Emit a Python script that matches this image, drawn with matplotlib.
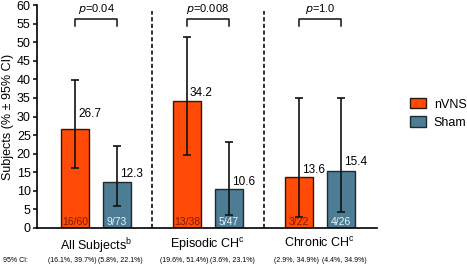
import matplotlib
matplotlib.use('Agg')
import matplotlib.pyplot as plt
import matplotlib.transforms as mtransforms
from matplotlib.patches import Patch
import numpy as np

plt.rcParams['font.family'] = ['Liberation Sans', 'DejaVu Sans']

# Daten
groups = ['All Subjects$^{\\mathregular{b}}$', 'Episodic CH$^{\\mathregular{c}}$', 'Chronic CH$^{\\mathregular{c}}$']
nvns = [26.7, 34.2, 13.6]
sham = [12.3, 10.6, 15.4]
nvns_ci = [(16.1, 39.7), (19.6, 51.4), (2.9, 34.9)]
sham_ci = [(5.8, 22.1), (3.6, 23.1), (4.4, 34.9)]
nvns_n = ['16/60', '13/38', '3/22']
sham_n = ['9/73', '5/47', '4/26']
p_values = ['0.04', '0.008', '1.0']
yticks = list(range(0, 61, 5))

c_nvns = '#FF4A08'
c_sham = '#4D7D94'

fig = plt.figure(figsize=(4.67, 2.69), dpi=100)
ax = fig.add_axes([37 / 467, 1 - 228 / 269, 340 / 467, 223 / 269])

x = np.arange(len(groups))
off = 0.1875
w = 0.25
xn = x - off
xs = x + off

def err(vals, ci):
    lo = [v - c[0] for v, c in zip(vals, ci)]
    hi = [c[1] - v for v, c in zip(vals, ci)]
    return [lo, hi]

ax.bar(xn, nvns, w, color=c_nvns, edgecolor='#2a1a10', linewidth=1.0, zorder=2)
ax.bar(xs, sham, w, color=c_sham, edgecolor='#1f2a30', linewidth=1.0, zorder=2)
ax.errorbar(xn, nvns, yerr=err(nvns, nvns_ci), fmt='none', ecolor='#111111',
            elinewidth=1.2, capsize=2.6, capthick=1.2, zorder=3)
ax.errorbar(xs, sham, yerr=err(sham, sham_ci), fmt='none', ecolor='#111111',
            elinewidth=1.2, capsize=2.6, capthick=1.2, zorder=3)

# Werte über den Balken
pad_n = [4.0, 2.0, 2.1]
pad_s = [2.1, 1.9, 2.3]
for i in range(len(groups)):
    ax.text(xn[i] + 0.027, nvns[i] + pad_n[i], f'{nvns[i]:.1f}', ha='left', va='center', fontsize=8.5)
    ax.text(xs[i] + 0.027, sham[i] + pad_s[i], f'{sham[i]:.1f}', ha='left', va='center', fontsize=8.5)
    ax.text(xn[i], 0.3, nvns_n[i], ha='center', va='bottom', fontsize=7.5, color='#7a1e00', zorder=4)
    ax.text(xs[i], 0.3, sham_n[i], ha='center', va='bottom', fontsize=7.5, color='#e8f2f8', zorder=4)
    # p-Wert Klammer
    ax.plot([xn[i], xn[i], xs[i], xs[i]], [54.3, 56.2, 56.2, 54.3], color='#111111', lw=1.1, clip_on=False)
    ax.text(x[i], 58.8, f'$\\it{{p}}$={p_values[i]}', ha='center', va='center', fontsize=8)

# Trennlinien
for sep in [0.5, 1.5]:
    ax.plot([sep, sep], [0, 58.5], color='#111111', lw=1.2, ls=(0, (2.5, 1.5)), clip_on=False)

ax.set_xlim(-0.527, 2.51)
ax.set_ylim(0, 60)
ax.set_yticks(yticks)
ax.set_xticks(x)
ax.set_xticklabels(groups, fontsize=9)
ax.tick_params(axis='x', length=0, pad=6)
ax.tick_params(axis='y', length=3, width=1.1, labelsize=9, pad=1.5)
ax.spines['top'].set_visible(False)
ax.spines['right'].set_visible(False)
ax.spines['left'].set_linewidth(1.2)
ax.spines['bottom'].set_linewidth(1.2)
ax.set_ylabel('Subjects (% \u00b1 95% CI)', fontsize=9, labelpad=2)

# 95% CI Zeile
tr = mtransforms.blended_transform_factory(ax.transData, fig.transFigure)
cy = 1 - 260.5 / 269
fig.text(3 / 467, cy, '95% CI:', fontsize=5, va='center', ha='left')
for i in range(len(groups)):
    ax.text(xn[i] - 0.02, cy, f'({nvns_ci[i][0]}%, {nvns_ci[i][1]}%)', transform=tr,
            fontsize=5, ha='center', va='center')
    ax.text(xs[i] + 0.03, cy, f'({sham_ci[i][0]}%, {sham_ci[i][1]}%)', transform=tr,
            fontsize=5, ha='center', va='center')

handles = [Patch(facecolor=c_nvns, edgecolor='#2a1a10', label='nVNS'),
           Patch(facecolor=c_sham, edgecolor='#1f2a30', label='Sham')]
fig.legend(handles=handles, loc='upper left', bbox_to_anchor=(405 / 467, 1 - 93 / 269),
           frameon=False, fontsize=9, handlelength=1.3, handleheight=0.9,
           handletextpad=0.6, labelspacing=0.45, borderaxespad=0)

fig.savefig('out.png', dpi=100)
